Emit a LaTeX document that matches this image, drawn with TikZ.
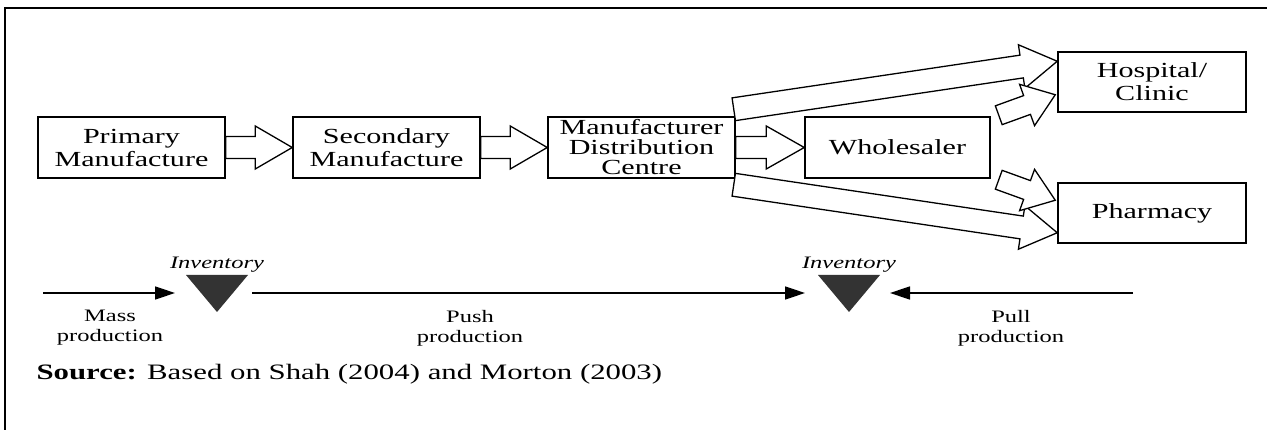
\documentclass[tikz,border=0pt]{standalone}
\usepackage{fontspec}
\setmainfont{Liberation Serif}[FakeStretch=1.4,
  BoldFeatures={FakeStretch=1.4}, ItalicFeatures={FakeStretch=1.4}]
\usetikzlibrary{calc,arrows.meta}

% Hollow block arrow: #1 tail, #2 tip, #3 half shaft width,
% #4 half head width, #5 head length
\newcommand{\fatarrow}[5]{%
  \path ($(#2)!#5!(#1)$) coordinate (fatneck);
  \draw[fatshape] ($(#1)!#3!90:(#2)$) -- ($(fatneck)!#3!90:(#2)$)
    -- ($(fatneck)!#4!90:(#2)$) -- (#2)
    -- ($(fatneck)!#4!-90:(#2)$) -- ($(fatneck)!#3!-90:(#2)$)
    -- ($(#1)!#3!-90:(#2)$) -- cycle;
}

\begin{document}
\begin{tikzpicture}[x=1pt,y=-1pt,
  box/.style={draw, line width=1.5pt, minimum width=187pt, minimum height=61pt,
    inner sep=0pt, align=center, font={\fontsize{21.5}{23}\selectfont}},
  fatshape/.style={draw, fill=white, line width=1.3pt, line join=miter},
  flow/.style={line width=1.5pt, -{Triangle[length=20pt,width=13pt]}},
  stock/.style={fill=black!80},
  invlabel/.style={anchor=base, font={\fontsize{17.5}{20}\selectfont\itshape}},
  modelabel/.style={align=center, font={\fontsize{17.5}{20}\selectfont}},
  frame/.style={line width=2pt}
]
\useasboundingbox (0,0) rectangle (1267,430);

% frame
\draw[frame] (5,430) -- (5,8) -- (1267,8);

% supply chain stages
\node[box] (prim) at (131.5,147.5) {Primary\\Manufacture};
\node[box] (sec) at (386.5,147.5) {Secondary\\Manufacture};
\node[box, font={\fontsize{21.5}{20}\selectfont}] (mdc) at (641.5,147.5)
  {Manufacturer\\Distribution\\Centre};
\node[box, minimum width=185pt] (whole) at (897.5,147.5) {Wholesaler};
\node[box, minimum width=188pt, minimum height=60pt] (hosp) at (1152,82) {Hospital/\\Clinic};
\node[box, minimum width=188pt, minimum height=60pt] (pharm) at (1152,213) {Pharmacy};

% flows between stages
\fatarrow{prim.east}{sec.west}{11pt}{21.5pt}{37pt}
\fatarrow{sec.east}{mdc.west}{11pt}{21.5pt}{37pt}
\fatarrow{mdc.east}{whole.west}{11pt}{21.5pt}{38pt}

\coordinate (mdcHt) at ($(mdc.north east)+(-2,-7)$);
\coordinate (mdcHh) at ($(hosp.north west)+(0,10)$);
\coordinate (mdcPt) at ($(mdc.south east)+(-2,6)$);
\coordinate (mdcPh) at ($(pharm.south west)+(0,-11)$);
\coordinate (whHt) at ($(whole.north east)+(8,-1)$);
\coordinate (whHh) at ($(hosp.south west)+(-2,-18)$);
\coordinate (whPt) at ($(whole.south east)+(8,1)$);
\coordinate (whPh) at ($(pharm.north west)+(-2,18)$);

\fatarrow{mdcHt}{mdcHh}{11.5pt}{22pt}{36pt}
\fatarrow{mdcPt}{mdcPh}{11.5pt}{22pt}{36pt}
\fatarrow{whHt}{whHh}{10pt}{22pt}{30pt}
\fatarrow{whPt}{whPh}{10pt}{22pt}{30pt}

% inventory points
\coordinate (inv1) at (217,275);
\coordinate (inv2) at (849,275);
\fill[stock] ($(inv1)+(-31,0)$) -- ($(inv1)+(31,0)$) -- ($(inv1)+(0,37)$) -- cycle;
\fill[stock] ($(inv2)+(-31,0)$) -- ($(inv2)+(31,0)$) -- ($(inv2)+(0,37)$) -- cycle;
\node[invlabel] (inv1lab) at ($(inv1)+(0,-6)$) {Inventory};
\node[invlabel] (inv2lab) at ($(inv2)+(0,-6)$) {Inventory};

% production modes
\coordinate (massstart) at (43,293);
\coordinate (pullstart) at (1133,293);
\draw[flow] (massstart) -- ($(inv1)+(-42,18)$);
\draw[flow] ($(inv1)+(35,18)$) -- ($(inv2)+(-44,18)$);
\draw[flow] (pullstart) -- ($(inv2)+(41,18)$);

\node[modelabel] (mass) at (110,328) {Mass\\production};
\node[modelabel] (push) at (470,328) {Push\\production};
\node[modelabel] (pull) at (1011,328) {Pull\\production};

\node[anchor=base west, font={\fontsize{22}{24}\selectfont}] (src) at (33,380)
  {\textbf{Source:} Based on Shah (2004) and Morton (2003)};
\end{tikzpicture}
\end{document}
